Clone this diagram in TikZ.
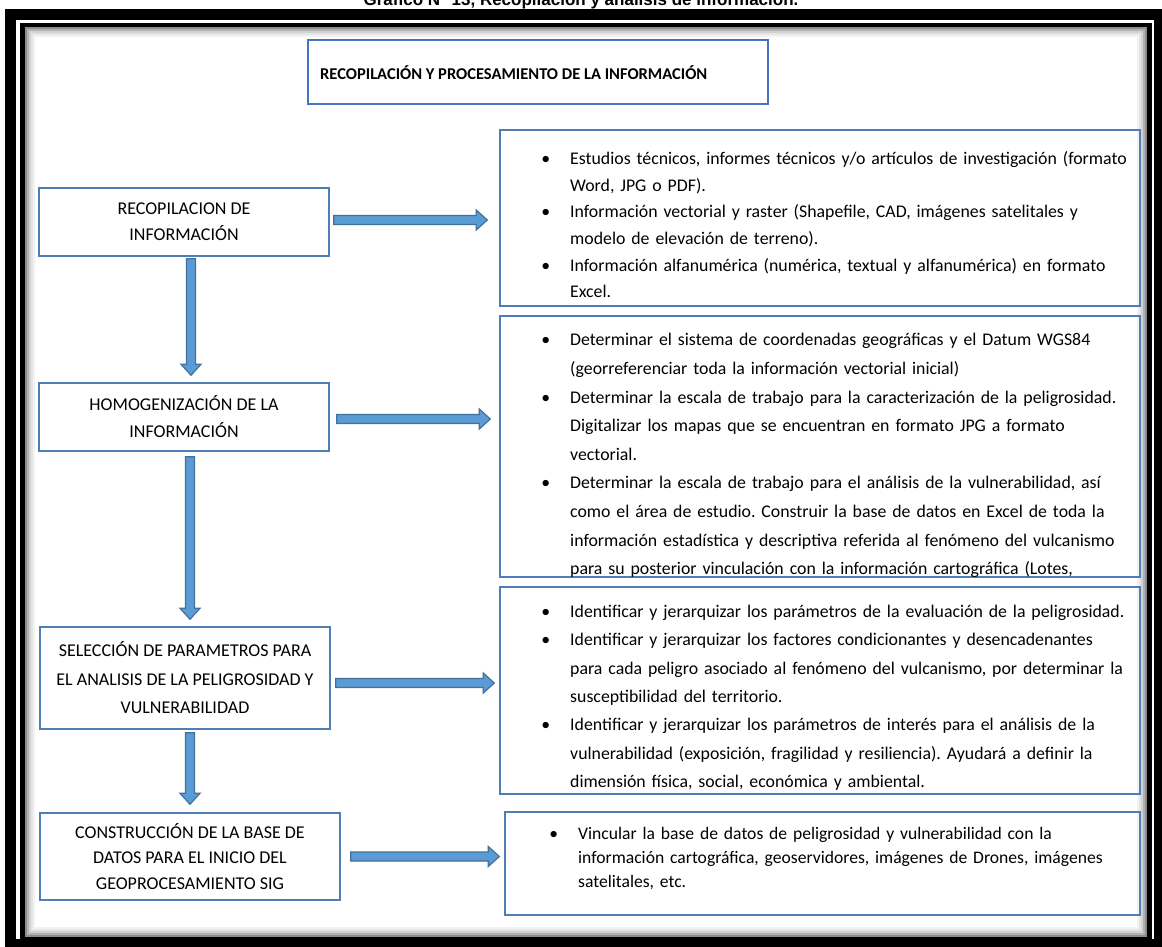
\documentclass[tikz,border=0pt]{standalone}
\usepackage{fontspec}
\setmainfont{Carlito}
\newfontfamily\captionfont{Liberation Sans}
\usetikzlibrary{calc}
\frenchspacing

\definecolor{boxblue}{HTML}{4F7DB5}
\definecolor{headblue}{HTML}{4472C4}
\definecolor{arrowfill}{HTML}{5B9BD5}
\definecolor{arrowline}{HTML}{41719C}

\tikzset{
  stepbox/.style={draw=boxblue, line width=1.4pt, inner sep=0pt, align=center},
  infobox/.style={draw=boxblue, line width=1.4pt, inner sep=0pt},
  infotext/.style={anchor=north west, inner sep=0pt, text width=590pt, align=left},
  blockarrow/.style={fill=arrowfill, draw=arrowline, line width=1.2pt, line join=miter},
}

% bullet with the text starting at the node's left edge
\newcommand{\bitem}{\par\noindent\llap{\textbullet\hspace{20pt}}\rule{0pt}{13pt}}
% block arrows between two coordinates
\newcommand{\harrow}[2]{\filldraw[blockarrow] ($(#1)+(0,-4.5)$) -- ($(#2)+(-11,-4.5)$) -- ($(#2)+(-11,-10)$) -- (#2) -- ($(#2)+(-11,10)$) -- ($(#2)+(-11,4.5)$) -- ($(#1)+(0,4.5)$) -- cycle;}
\newcommand{\varrow}[2]{\filldraw[blockarrow] ($(#1)+(-4.5,0)$) -- ($(#2)+(-4.5,-11)$) -- ($(#2)+(-10,-11)$) -- (#2) -- ($(#2)+(10,-11)$) -- ($(#2)+(4.5,-11)$) -- ($(#1)+(4.5,0)$) -- cycle;}

\begin{document}
\begin{tikzpicture}[x=1pt, y=-1pt]
  \useasboundingbox (0,0) rectangle (1162,947);
  \fill[white] (0,0) rectangle (1162,947);

  % Caption, cut by the top edge
  \node[anchor=base, inner sep=0pt, font=\captionfont\bfseries\fontsize{17}{20}\selectfont] (caption) at (581,6)
    {Gráfico N° 13, Recopilación y análisis de información.};

  % Frame
  \draw[line width=11pt] (10.5,14.5) rectangle (1159.5,944);
  \draw[line width=4.5pt] (22.5,25) rectangle (1149.5,939.5);
  \foreach \i/\c in {1/45,2/30,3/18,4/10,5/5}
    \draw[black!\c, line width=2pt] ({23.75+2*\i},{26.25+2*\i}) rectangle ({1148.25-2*\i},{938.25-2*\i});

  % Title
  \node[draw=headblue, line width=1.4pt, minimum width=460pt, minimum height=64pt, inner sep=0pt] (title) at (538,72) {};
  \node[anchor=west, inner sep=0pt, font=\bfseries\fontsize{16.5}{19}\selectfont] (titletext) at (320,73)
    {RECOPILACIÓN Y PROCESAMIENTO DE LA INFORMACIÓN};

  % Steps
  \node[stepbox, minimum width=290pt, minimum height=68pt, font=\fontsize{18}{26}\selectfont] (l1) at (184,222)
    {RECOPILACION DE\\INFORMACIÓN};
  \node[stepbox, minimum width=290pt, minimum height=68pt, font=\fontsize{18}{27}\selectfont] (l2) at (184,417)
    {HOMOGENIZACIÓN DE LA\\INFORMACIÓN};
  \node[stepbox, minimum width=290pt, minimum height=102pt, font=\fontsize{18}{28.5}\selectfont] (l3) at (185,678)
    {SELECCIÓN DE PARAMETROS PARA\\EL ANALISIS DE LA PELIGROSIDAD Y\\VULNERABILIDAD};
  \node[stepbox, minimum width=300pt, minimum height=87pt, font=\fontsize{18}{25.5}\selectfont] (l4) at (190,856.5)
    {CONSTRUCCIÓN DE LA BASE DE\\DATOS PARA EL INICIO DEL\\GEOPROCESAMIENTO SIG};

  % Details
  \node[infobox, minimum width=640pt, minimum height=176pt] (r1) at (820,218) {};
  \node[infobox, minimum width=640pt, minimum height=261pt] (r2) at (820,446.5) {};
  \node[infobox, minimum width=640pt, minimum height=207pt] (r3) at (820,690.5) {};
  \node[infobox, minimum width=635pt, minimum height=103pt] (r4) at (822.5,863.5) {};

  \node[infotext, font=\fontsize{17.8}{26.6}\selectfont] (r1t) at (570,138) {%
    \bitem Estudios técnicos, informes técnicos y/o artículos de investigación (formato\\
    Word, JPG o PDF).
    \bitem Información vectorial y raster (Shapefile, CAD, imágenes satelitales y\\
    modelo de elevación de terreno).
    \bitem Información alfanumérica (numérica, textual y alfanumérica) en formato\\
    Excel.};
  \node[infotext, font=\fontsize{17.8}{28.6}\selectfont] (r2t) at (570,317) {%
    \bitem Determinar el sistema de coordenadas geográficas y el Datum WGS84\\
    (georreferenciar toda la información vectorial inicial)
    \bitem Determinar la escala de trabajo para la caracterización de la peligrosidad.\\
    Digitalizar los mapas que se encuentran en formato JPG a formato\\
    vectorial.
    \bitem Determinar la escala de trabajo para el análisis de la vulnerabilidad, así\\
    como el área de estudio. Construir la base de datos en Excel de toda la\\
    información estadística y descriptiva referida al fenómeno del vulcanismo\\
    para su posterior vinculación con la información cartográfica (Lotes,};
  \node[infotext, font=\fontsize{17.8}{28.3}\selectfont] (r3t) at (570,589) {%
    \bitem Identificar y jerarquizar los parámetros de la evaluación de la peligrosidad.
    \bitem Identificar y jerarquizar los factores condicionantes y desencadenantes\\
    para cada peligro asociado al fenómeno del vulcanismo, por determinar la\\
    susceptibilidad del territorio.
    \bitem Identificar y jerarquizar los parámetros de interés para el análisis de la\\
    vulnerabilidad (exposición, fragilidad y resiliencia). Ayudará a definir la\\
    dimensión física, social, económica y ambiental.};
  \node[infotext, font=\fontsize{17.6}{24}\selectfont] (r4t) at (578,815) {%
    \bitem Vincular la base de datos de peligrosidad y vulnerabilidad con la\\
    información cartográfica, geoservidores, imágenes de Drones, imágenes\\
    satelitales, etc.};

  % Arrows down
  \coordinate (v1s) at ($(l1.south)+(7,2)$);
  \coordinate (v1e) at ($(l2.north)+(7,-7)$);
  \coordinate (v2s) at ($(l2.south)+(6,5)$);
  \coordinate (v2e) at ($(l3.north)+(5,-7)$);
  \coordinate (v3s) at ($(l3.south)+(5,3)$);
  \coordinate (v3e) at ($(l4.north)+(0,-8)$);
  \varrow{v1s}{v1e}
  \varrow{v2s}{v2e}
  \varrow{v3s}{v3e}

  % Arrows right
  \coordinate (h1s) at ($(l1.east)+(4,-2)$);
  \coordinate (h1e) at ($(l1.east -| r1.west)+(-12,-2)$);
  \coordinate (h2s) at ($(l2.east)+(7,2)$);
  \coordinate (h2e) at ($(l2.east -| r2.west)+(-9,2)$);
  \coordinate (h3s) at ($(l3.east)+(5,5)$);
  \coordinate (h3e) at ($(l3.east -| r3.west)+(-5,5)$);
  \coordinate (h4s) at ($(l4.east)+(10,0)$);
  \coordinate (h4e) at ($(l4.east -| r4.west)+(-5,0)$);
  \harrow{h1s}{h1e}
  \harrow{h2s}{h2e}
  \harrow{h3s}{h3e}
  \harrow{h4s}{h4e}
\end{tikzpicture}
\end{document}
